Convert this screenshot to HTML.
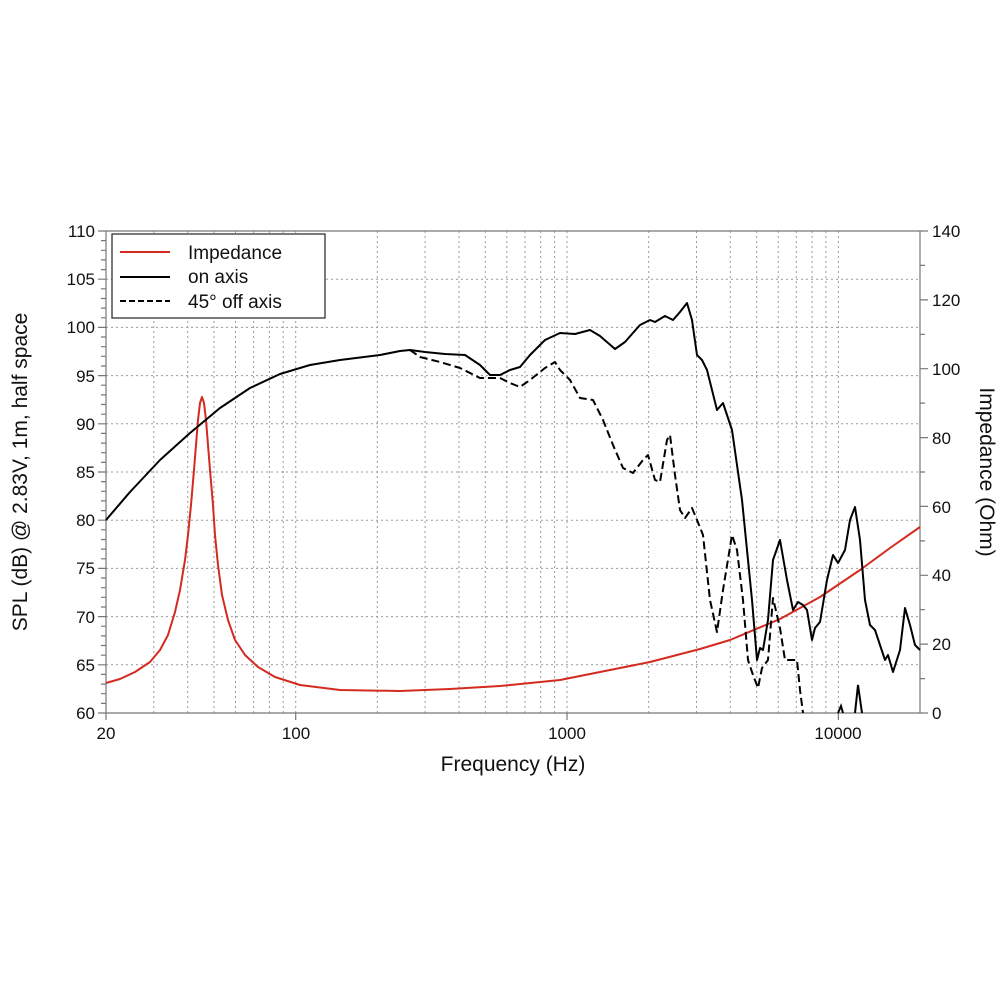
<!DOCTYPE html>
<html><head><meta charset="utf-8"><style>
html,body{margin:0;padding:0;background:#fff;}
svg{display:block;font-family:"Liberation Sans",Arial,sans-serif;}
</style></head><body>
<svg width="1000" height="1000" viewBox="0 0 1000 1000" xmlns="http://www.w3.org/2000/svg">
<rect width="1000" height="1000" fill="#fff"/>
<g stroke="#999" stroke-width="1" stroke-dasharray="2,3" fill="none">
<path d="M153.8 231V713M187.7 231V713M214 231V713M235.5 231V713M253.6 231V713M269.4 231V713M283.2 231V713M295.7 231V713M377.3 231V713M425.1 231V713M459 231V713M485.3 231V713M506.8 231V713M525 231V713M540.7 231V713M554.6 231V713M567 231V713M648.7 231V713M696.5 231V713M730.3 231V713M756.7 231V713M778.2 231V713M796.3 231V713M812.1 231V713M825.9 231V713M838.4 231V713"/>
<path d="M106 279.2H920M106 327.4H920M106 375.6H920M106 423.8H920M106 472H920M106 520.2H920M106 568.4H920M106 616.6H920M106 664.8H920"/>
</g>
<g stroke="#777" stroke-width="1.2" fill="none">
<path d="M106 231H920M106 713H920M106 231V713M920 231V713"/>
<path d="M98 231H106M98 279.2H106M98 327.4H106M98 375.6H106M98 423.8H106M98 472H106M98 520.2H106M98 568.4H106M98 616.6H106M98 664.8H106M98 713H106"/>
<path d="M920 231H928M920 299.9H928M920 368.7H928M920 437.6H928M920 506.4H928M920 575.3H928M920 644.1H928M920 713H928"/>
<path d="M920 265.4H925M920 334.3H925M920 403.1H925M920 472H925M920 540.9H925M920 609.7H925M920 678.6H925"/>
<path d="M101 240.6H106M101 250.3H106M101 259.9H106M101 269.6H106M101 288.8H106M101 298.5H106M101 308.1H106M101 317.8H106M101 337H106M101 346.7H106M101 356.3H106M101 366H106M101 385.2H106M101 394.9H106M101 404.5H106M101 414.2H106M101 433.4H106M101 443.1H106M101 452.7H106M101 462.4H106M101 481.6H106M101 491.3H106M101 500.9H106M101 510.6H106M101 529.8H106M101 539.5H106M101 549.1H106M101 558.8H106M101 578H106M101 587.7H106M101 597.3H106M101 607H106M101 626.2H106M101 635.9H106M101 645.5H106M101 655.2H106M101 674.4H106M101 684.1H106M101 693.7H106M101 703.4H106"/>
<path d="M106 713V720M295.7 713V720M567 713V720M838.4 713V720"/>
</g>
<g font-size="17" fill="#111" text-anchor="end">
<text x="95" y="237">110</text><text x="95" y="285">105</text><text x="95" y="333">100</text><text x="95" y="382">95</text><text x="95" y="430">90</text><text x="95" y="478">85</text><text x="95" y="526">80</text><text x="95" y="574">75</text><text x="95" y="623">70</text><text x="95" y="671">65</text><text x="95" y="719">60</text>
</g>
<g font-size="17" fill="#111">
<text x="932" y="237">140</text><text x="932" y="306">120</text><text x="932" y="375">100</text><text x="932" y="444">80</text><text x="932" y="513">60</text><text x="932" y="581">40</text><text x="932" y="650">20</text><text x="932" y="719">0</text>
</g>
<g font-size="17" fill="#111" text-anchor="middle">
<text x="106" y="739">20</text><text x="296" y="739">100</text><text x="567" y="739">1000</text><text x="838" y="739">10000</text>
</g>
<text x="513" y="771" font-size="21" text-anchor="middle" fill="#111">Frequency (Hz)</text>
<text transform="translate(27,472) rotate(-90)" font-size="21" text-anchor="middle" fill="#111">SPL (dB) @ 2.83V, 1m, half space</text>
<text transform="translate(980,472) rotate(90)" font-size="21" text-anchor="middle" fill="#111">Impedance (Ohm)</text>
<polyline fill="none" stroke="#d42a20" stroke-width="2" stroke-linejoin="round" points="106,683 120,679 135,672 150,662 160,650 168,635 175,612 180,590 185,560 188,535 191,505 194,470 196,445 198,420 200,403 202,397 204,403 206,420 208,445 210,470 213,505 215,535 218,565 222,595 228,620 235,640 245,655 258,667 275,677 300,685 340,690 400,691 450,689 500,686 560,680 620,668 650,662 700,649 730,640 780,619 820,597 860,570 890,548 920,527"/>
<polyline fill="none" stroke="#000" stroke-width="2" stroke-linejoin="round" points="106,520 130,492 160,460 190,433 220,408 250,388 280,374 310,365 340,360 380,355 400,351 410,350 425,352 445,354 465,355 480,365 490,375 500,375 510,370 520,367 530,355 545,340 560,333 575,334 590,330 600,336 615,349 625,342 640,325 650,320 655,322 665,316 673,320 680,312 687,303 692,320 697,355 702,360 707,370 717,410 723,403 732,430 742,500 752,600 757,660 760,648 763,650 768,620 773,560 780,540 787,580 793,610 798,602 803,605 807,610 812,640 815,628 820,622 827,580 833,555 838,563 845,550 850,520 855,507 860,540 865,600 870,625 875,630 880,645 885,660 888,655 893,672 900,650 905,608 910,625 915,645 920,650"/>
<polyline fill="none" stroke="#000" stroke-width="2" stroke-dasharray="8,4" stroke-linejoin="round" points="410,350 420,357 440,362 460,368 480,378 500,378 510,383 520,387 530,380 545,368 555,362 560,370 570,380 580,398 593,400 603,420 613,445 623,468 633,473 643,460 648,455 655,480 660,482 667,440 670,435 675,475 680,510 685,518 692,508 697,520 703,535 710,600 717,632 723,590 732,535 737,550 743,600 748,660 753,675 758,688 762,668 768,660 773,598 780,628 785,660 792,660 797,660 800,690 803,713"/>
<polyline fill="none" stroke="#000" stroke-width="2" points="838,713 841,706 843,713"/>
<polyline fill="none" stroke="#000" stroke-width="2" points="855,713 858,685 862,713"/>
<rect x="112" y="234" width="213" height="84" fill="#fff" stroke="#222" stroke-width="1.2"/>
<line x1="120" y1="252" x2="170" y2="252" stroke="#d42a20" stroke-width="2"/>
<line x1="120" y1="277" x2="170" y2="277" stroke="#000" stroke-width="2"/>
<line x1="120" y1="301" x2="170" y2="301" stroke="#000" stroke-width="2" stroke-dasharray="6,3"/>
<g font-size="19" fill="#111">
<text x="188" y="259">Impedance</text><text x="188" y="283">on axis</text><text x="188" y="308">45° off axis</text>
</g>
</svg>
</body></html>
